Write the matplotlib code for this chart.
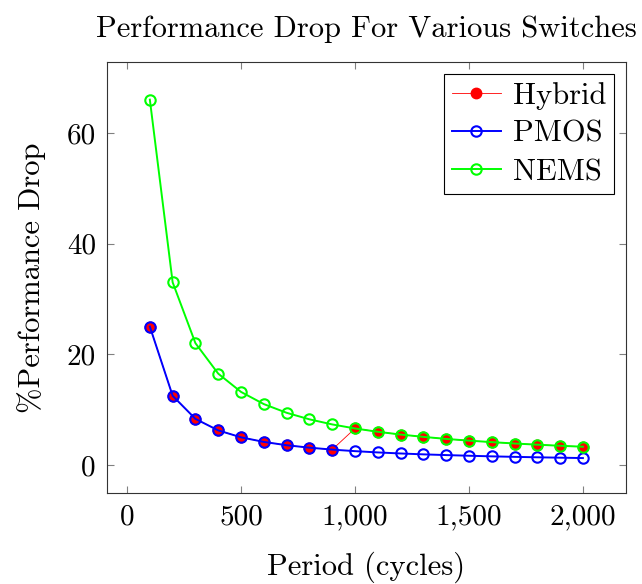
import matplotlib
matplotlib.use("Agg")
import matplotlib.pyplot as plt
from matplotlib.ticker import FuncFormatter

plt.rcParams['font.family'] = 'serif'
plt.rcParams['font.serif'] = ['cmr10', 'DejaVu Serif']
plt.rcParams['mathtext.fontset'] = 'cm'
plt.rcParams['axes.unicode_minus'] = False

period = [100, 200, 300, 400, 500, 600, 700, 800, 900, 1000,
          1100, 1200, 1300, 1400, 1500, 1600, 1700, 1800, 1900, 2000]
pmos = [25.0, 12.5, 8.33, 6.25, 5.0, 4.17, 3.57, 3.13, 2.78, 2.5,
        2.27, 2.08, 1.92, 1.79, 1.67, 1.56, 1.47, 1.39, 1.32, 1.25]
nems = [66.0, 33.0, 22.0, 16.5, 13.2, 11.0, 9.43, 8.25, 7.33, 6.6,
        6.0, 5.5, 5.08, 4.71, 4.4, 4.13, 3.88, 3.67, 3.47, 3.3]
hybrid = [25.0, 12.5, 8.33, 6.25, 5.0, 4.17, 3.57, 3.13, 2.78, 6.6,
          6.0, 5.5, 5.08, 4.71, 4.4, 4.13, 3.88, 3.67, 3.47, 3.3]

fig = plt.figure(figsize=(6.42, 5.84), dpi=100)
ax = fig.add_axes([107 / 642, 1 - 493 / 584, (626 - 107) / 642, (493 - 62) / 584])

ax.plot(period, hybrid, color='red', lw=0.6, marker='o', ms=7.5,
        mfc='red', mec='red', label='Hybrid', zorder=2)
ax.plot(period, pmos, color='blue', lw=1.4, marker='o', ms=7.5,
        mfc='none', mec='blue', mew=1.5, label='PMOS', zorder=3)
ax.plot(period, nems, color='#00ff00', lw=1.4, marker='o', ms=7.5,
        mfc='none', mec='#00ff00', mew=1.5, label='NEMS', zorder=3)

ax.set_xlim(-88, 2189)
ax.set_ylim(-5.06, 72.8)
ax.set_xticks([0, 500, 1000, 1500, 2000])
ax.set_yticks([0, 20, 40, 60])
ax.xaxis.set_major_formatter(FuncFormatter(lambda v, p: f"{int(v):,}"))
ax.tick_params(direction='in', color='gray', length=5, width=0.8,
               top=True, right=True, labelsize=21, pad=8)
for s in ax.spines.values():
    s.set_color('#333333')
    s.set_linewidth(0.8)

ax.set_xlabel('Period (cycles)', fontsize=22, labelpad=15)
ax.set_ylabel('%Performance Drop', fontsize=22, labelpad=15)
ax.set_title('Performance Drop For Various Switches', fontsize=22, pad=18)

leg = ax.legend(loc='upper right', fontsize=22, fancybox=False, framealpha=1,
                edgecolor='black', borderaxespad=0.4, handlelength=1.6,
                handletextpad=0.4, borderpad=0.25, labelspacing=0.35)
leg.get_frame().set_linewidth(0.8)

fig.savefig('out.png', dpi=100)
